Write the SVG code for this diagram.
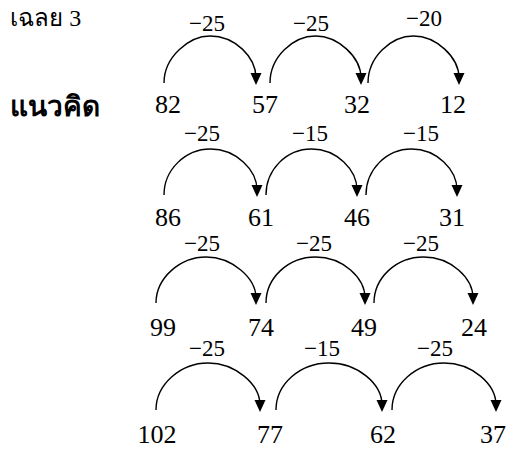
<svg xmlns="http://www.w3.org/2000/svg" xmlns:xlink="http://www.w3.org/1999/xlink" width="507" height="449" viewBox="0 0 507 449">
<style>
.num{font-family:"Liberation Serif","Times New Roman",serif;font-size:26px;fill:#000;text-anchor:middle}
.lbl{font-family:"Liberation Serif","Times New Roman",serif;font-size:23px;fill:#000;text-anchor:middle}
.th{font-family:"Noto Sans","DejaVu Sans",Tahoma,sans-serif;fill:#000}
.arc{fill:none;stroke:#000;stroke-width:1.4}
</style>
<defs>
<path id="ah" d="M-5.5,-12 L5.5,-12 L0,0 Z" fill="#000"/>
</defs>
<rect width="507" height="449" fill="#fff"/>
<g id="title">
<text class="th" x="10" y="26" font-size="24">เฉลย <tspan font-family="Liberation Serif, serif">3</tspan></text>
<text class="th" x="10" y="116" font-size="28" font-weight="bold">แนวคิด</text>
</g>
<g id="connectors">
<path class="arc" d="M164,83 C164,57 189,36 210,36 C235,36 256,57 256,78"/>
<path class="arc" d="M270,83 C270,57 293,36 315.5,36 C338,36 361,57 361,78"/>
<path class="arc" d="M368,83 C368,57 391,36 413.5,36 C436,36 459,57 459,78"/>
<use xlink:href="#ah" x="256" y="85"/>
<use xlink:href="#ah" x="361" y="85"/>
<use xlink:href="#ah" x="459" y="85"/>
<path class="arc" d="M164,195 C164,170 185,149 210.5,149 C236,149 257,170 257,190"/>
<path class="arc" d="M266,195 C266,170 286,149 311.5,149 C337,149 357,170 357,190"/>
<path class="arc" d="M366,195 C366,170 386,149 411.5,149 C437,149 457,170 457,190"/>
<use xlink:href="#ah" x="257" y="197"/>
<use xlink:href="#ah" x="357" y="197"/>
<use xlink:href="#ah" x="457" y="197"/>
<path class="arc" d="M156,303 C156,278 180,257 206,257 C232,257 256,278 256,298"/>
<path class="arc" d="M266,303 C266,278 288,257 315.5,257 C343,257 365,278 365,298"/>
<path class="arc" d="M374,303 C374,278 396,257 423.5,257 C451,257 473,278 473,298"/>
<use xlink:href="#ah" x="256" y="305"/>
<use xlink:href="#ah" x="365" y="305"/>
<use xlink:href="#ah" x="473" y="305"/>
<path class="arc" d="M156,410 C156,384 181,363 208,363 C235,363 260,384 260,405"/>
<path class="arc" d="M276,410 C276,384 300,363 329,363 C358,363 382,384 382,405"/>
<path class="arc" d="M392,410 C392,384 416,363 444,363 C472,363 496,384 496,405"/>
<use xlink:href="#ah" x="260" y="412"/>
<use xlink:href="#ah" x="382" y="412"/>
<use xlink:href="#ah" x="496" y="412"/>
</g>
<g id="labels">
<text class="lbl" x="207" y="31">−25</text>
<text class="lbl" x="311" y="31">−25</text>
<text class="lbl" x="424" y="26">−20</text>
<text class="lbl" x="202" y="141">−25</text>
<text class="lbl" x="310" y="141">−15</text>
<text class="lbl" x="421" y="141">−15</text>
<text class="lbl" x="202" y="251">−25</text>
<text class="lbl" x="314" y="251">−25</text>
<text class="lbl" x="421" y="251">−25</text>
<text class="lbl" x="207" y="356">−25</text>
<text class="lbl" x="322" y="356">−15</text>
<text class="lbl" x="435" y="356">−25</text>
</g>
<g id="row1">
<text class="num" x="168" y="113">82</text>
<text class="num" x="265" y="113">57</text>
<text class="num" x="357" y="113">32</text>
<text class="num" x="453" y="113">12</text>
</g>
<g id="row2">
<text class="num" x="168" y="226">86</text>
<text class="num" x="261" y="226">61</text>
<text class="num" x="357" y="226">46</text>
<text class="num" x="452" y="226">31</text>
</g>
<g id="row3">
<text class="num" x="163" y="336">99</text>
<text class="num" x="261" y="336">74</text>
<text class="num" x="364" y="336">49</text>
<text class="num" x="474" y="336">24</text>
</g>
<g id="row4">
<text class="num" x="157" y="443">102</text>
<text class="num" x="270" y="443">77</text>
<text class="num" x="383" y="443">62</text>
<text class="num" x="493" y="443">37</text>
</g>
</svg>
